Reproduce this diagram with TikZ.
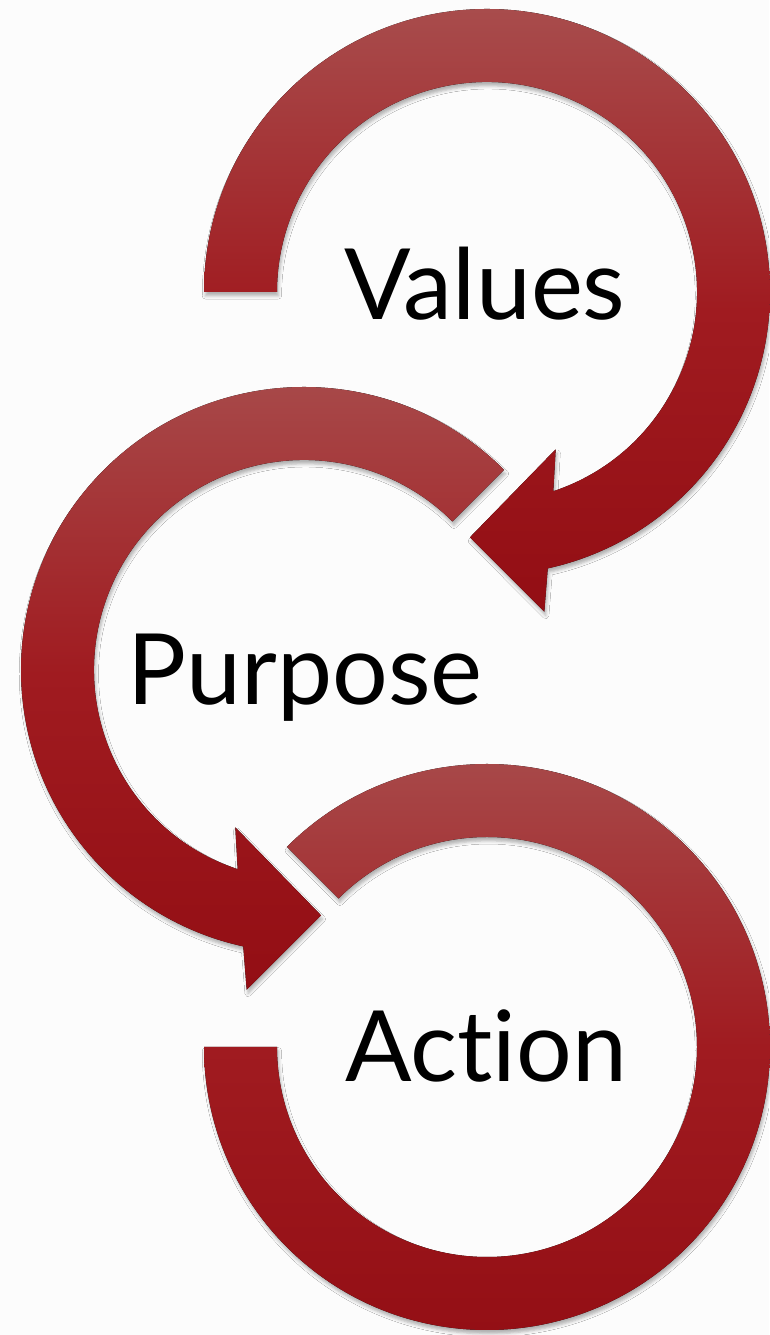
\documentclass[tikz,border=0pt]{standalone}
\usepackage{fontspec}
\setsansfont{Lato}[Ligatures=NoCommon]
\usepackage{tikz}
\usetikzlibrary{calc, shadows.blur}
\definecolor{arrowtop}{HTML}{A84C4C}
\definecolor{arrowmid}{HTML}{A01B20}
\definecolor{arrowbot}{HTML}{930E14}
\definecolor{paper}{HTML}{FCFCFC}
\tikzstyle{ring}     = [top color=arrowtop, bottom color=arrowbot, middle color=arrowmid, blur shadow={shadow xshift=0.8pt, shadow yshift=-2.2pt, shadow blur radius=1.8pt, shadow opacity=30}]
\tikzstyle{ringtext} = [font=\sffamily\fontsize{56}{60}\selectfont, text=black, anchor=base, inner sep=0pt]

\begin{document}
\begin{tikzpicture}[x=0.02cm, y=0.02cm]
    \useasboundingbox (0,0) rectangle (769,1335);
    \fill[paper] (0,0) rectangle (769,1335);

    \coordinate (values c)  at (487,1043);
    \coordinate (purpose c) at (304,665);
    \coordinate (action c)  at (487,288);

    % values ring, turning clockwise into purpose
    \begin{scope}[shift={(values c)}]
      \fill[ring] (180:283) arc[start angle=180, end angle=-77.6, radius=283]
        -- (57.3,-319.7) -- (-17,-245.3) -- (68.7,-157.3)
        -- (-71.6:210) arc[start angle=-71.6, end angle=180, radius=210] -- cycle;
    \end{scope}

    % purpose ring, turning anticlockwise into action
    \begin{scope}[shift={(purpose c)}]
      \fill[ring] (45:283) arc[start angle=45, end angle=257.6, radius=283]
        -- (-57.3,-319.7) -- (17,-245.3) -- (-68.7,-157.3)
        -- (251.6:210) arc[start angle=251.6, end angle=45, radius=210] -- cycle;
    \end{scope}

    % action ring
    \begin{scope}[shift={(action c)}]
      \fill[ring] (135:283) arc[start angle=135, end angle=-180, radius=283]
        -- (-180:210) arc[start angle=-180, end angle=135, radius=210] -- cycle;
    \end{scope}

    \node (values)  [ringtext] at ($(values c)+(-2,-28)$)  {Values};
    \node (purpose) [ringtext] at ($(purpose c)+(1,-35)$)  {Purpose};
    \node (action)  [ringtext] at ($(action c)+(-1,-35)$)  {Action};
\end{tikzpicture}
\end{document}
